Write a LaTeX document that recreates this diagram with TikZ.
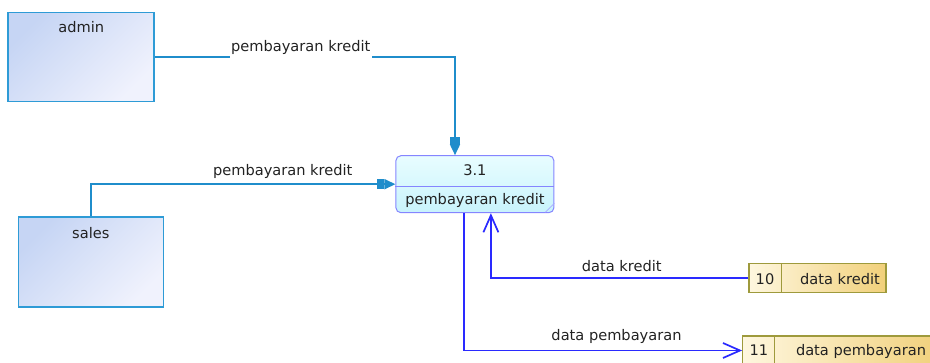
\documentclass[tikz,border=0pt]{standalone}
\usepackage{fontspec}
\setmainfont{DejaVu Sans}
\usetikzlibrary{arrows.meta}

\definecolor{flowteal}{HTML}{1F8DCB}
\definecolor{flowblue}{HTML}{2A2AFF}
\definecolor{entline}{HTML}{2E9BD6}
\definecolor{entA}{HTML}{C6D5F4}
\definecolor{entB}{HTML}{F0F2FD}
\definecolor{procline}{HTML}{8585FF}
\definecolor{procA}{HTML}{E8FDFF}
\definecolor{procB}{HTML}{C8F3FC}
\definecolor{storeline}{HTML}{9E9A3C}
\definecolor{storeA}{HTML}{FEF7DF}
\definecolor{storeB}{HTML}{F1D07A}
\definecolor{ink}{HTML}{222222}

\begin{document}
\begin{tikzpicture}[
  x=1pt, y=-1pt,
  font=\fontsize{14.6}{17}\selectfont, text=ink,
  entity/.style={draw=entline, line width=1.6pt, top color=entA, bottom color=entB,
    shading angle=45, inner sep=0pt},
  process/.style={draw=procline, line width=1pt, rounded corners=5pt,
    top color=procA, bottom color=procB, minimum width=158pt, minimum height=57pt, inner sep=0pt},
  store/.style={draw=storeline, line width=1.2pt, left color=storeA, right color=storeB,
    minimum height=29pt, inner sep=0pt},
  txt/.style={anchor=base, inner sep=0pt},
  lbl/.style={anchor=base, inner sep=0pt, text=ink},
  tealflow/.style={draw=flowteal, line width=1.7pt,
    -{Rectangle[length=7pt,width=10pt,sep=0pt]Triangle[length=11pt,width=10pt]}},
  blueflow/.style={draw=flowblue, line width=1.7pt,
    -{Straight Barb[length=17pt,width=15pt]}}
]
\useasboundingbox (0,0) rectangle (930,363);
\clip (0,0) rectangle (930,363);

% external entities
\node[entity, minimum width=146pt, minimum height=89pt] (admin) at (81.2,57) {};
\node[txt] (admintxt) at (81.2,33) {admin};
\node[entity, minimum width=145pt, minimum height=90pt] (sales) at (90.8,262.2) {};
\node[txt] (salestxt) at (90.8,238.3) {sales};

% process 3.1
\node[process] (proc) at (474.9,184.2) {};
\draw[procline, line width=1pt] (proc.west |- 0,186.7) -- (proc.east |- 0,186.7);
\node[txt] (procid) at (474.9,176) {3.1};
\node[txt] (procname) at (474.9,205) {pembayaran kredit};
\draw[procline!70, line width=0.6pt] ([yshift=10pt]proc.south east) -- ([xshift=-9pt,yshift=1pt]proc.south east);

% data stores
\node[store, minimum width=137pt] (s10) at (817.5,278.3) {};
\draw[storeline, line width=1.2pt] ([xshift=32.7pt]s10.north west) -- ([xshift=32.7pt]s10.south west);
\node[txt] (s10id) at (765,284.3) {10};
\node[txt] (s10name) at (840,284.3) {data kredit};

\node[store, minimum width=200pt] (s11) at (842.7,350.5) {};
\draw[storeline, line width=1.2pt] ([xshift=32.3pt]s11.north west) -- ([xshift=32.3pt]s11.south west);
\node[txt] (s11id) at (758.8,356) {11};
\node[txt] (s11name) at (861,356) {data pembayaran};

% data flows
\draw[tealflow] (admin.east) -| ([xshift=-19.9pt]proc.north)
  node[lbl, pos=0.243, yshift=5.5pt, fill=white, inner xsep=1.5pt, inner ysep=3.5pt] {pembayaran kredit};
\draw[tealflow] (sales.north) |- (proc.west)
  node[lbl, pos=0.815, yshift=8.6pt] {pembayaran kredit};
\draw[blueflow] (s10.west) -| ([xshift=16pt]proc.south)
  node[lbl, pos=0.246, yshift=7pt] {data kredit};
\draw[blueflow] ([xshift=-10.7pt]proc.south) |- (s11.west)
  node[lbl, pos=0.774, yshift=9.5pt] {data pembayaran};
\end{tikzpicture}
\end{document}
